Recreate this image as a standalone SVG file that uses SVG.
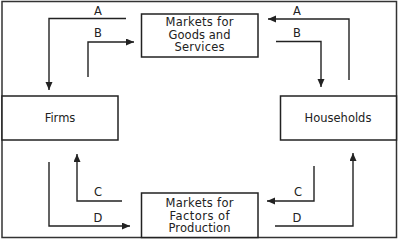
<svg xmlns="http://www.w3.org/2000/svg" width="399" height="241" viewBox="0 0 399 241">
<defs>
<marker id="ah" markerUnits="userSpaceOnUse" markerWidth="9" markerHeight="8" refX="8" refY="3.5" orient="auto">
<path d="M0,0 L8,3.5 L0,7 z" fill="#222"/>
</marker>
<style>
.box{fill:#fff;stroke:#222;stroke-width:1.5}
.t{font-family:"DejaVu Sans","Liberation Sans",sans-serif;font-size:11.5px;fill:#222;text-anchor:middle}
.c{fill:none;stroke:#222;stroke-width:1.4;marker-end:url(#ah)}
</style>
</defs>
<rect x="0" y="0" width="399" height="241" fill="#fff"/>
<rect x="2" y="1.5" width="394.5" height="236" fill="none" stroke="#333" stroke-width="1.5"/>
<g id="goods">
<rect class="box" x="141.5" y="14" width="116.5" height="43"/>
<text class="t" x="199.5" y="26" textLength="68" lengthAdjust="spacing">Markets for</text>
<text class="t" x="199.5" y="38.5" textLength="62" lengthAdjust="spacing">Goods and</text>
<text class="t" x="199.5" y="51" textLength="50" lengthAdjust="spacing">Services</text>
</g>
<g id="factors">
<rect class="box" x="141.5" y="193" width="116.5" height="44.5"/>
<text class="t" x="199.5" y="207" textLength="68" lengthAdjust="spacing">Markets for</text>
<text class="t" x="199.5" y="219.5" textLength="60" lengthAdjust="spacing">Factors of</text>
<text class="t" x="199.5" y="232" textLength="62" lengthAdjust="spacing">Production</text>
</g>
<g id="firms">
<rect class="box" x="2" y="96" width="116" height="44"/>
<text class="t" x="60" y="122">Firms</text>
</g>
<g id="households">
<rect class="box" x="280.5" y="96" width="116" height="44"/>
<text class="t" x="338" y="122">Households</text>
</g>
<g id="connectors">
<path class="c" d="M126,18.5 H49 V90"/>
<path class="c" d="M88,77 V42 H134"/>
<path class="c" d="M349,80 V19 H268"/>
<path class="c" d="M276,41.5 H321 V87"/>
<path class="c" d="M122,201 H77 V154"/>
<path class="c" d="M49,162 V226 H130"/>
<path class="c" d="M314,166 V201 H267"/>
<path class="c" d="M275,226 H353 V153"/>
<text class="t" x="98" y="15">A</text>
<text class="t" x="98" y="37">B</text>
<text class="t" x="297" y="15">A</text>
<text class="t" x="297" y="37">B</text>
<text class="t" x="98" y="196">C</text>
<text class="t" x="98" y="222">D</text>
<text class="t" x="298" y="196">C</text>
<text class="t" x="297" y="222">D</text>
</g>
</svg>
